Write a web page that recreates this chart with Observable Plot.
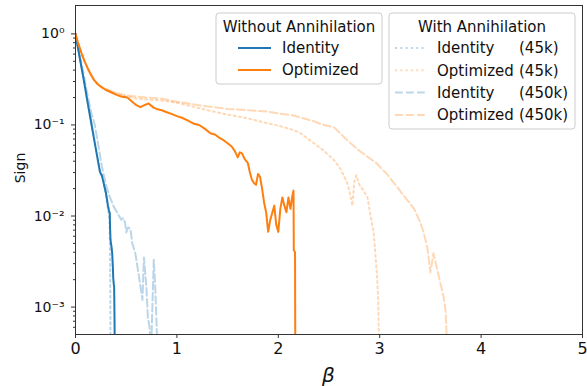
<!DOCTYPE html>
<html><head><meta charset="utf-8">
<script src="https://cdn.jsdelivr.net/npm/d3@7"></script>
<script src="https://cdn.jsdelivr.net/npm/@observablehq/plot@0.6"></script>
<style>
body{margin:0;background:#fff;}
svg{font-family:"DejaVu Sans",sans-serif;}
</style>
</head><body><div id="chart"></div>
<script>
// ---- data ----
const identityBeta = [0, 0.04, 0.08, 0.12, 0.16, 0.2, 0.24, 0.25, 0.26, 0.27, 0.279, 0.29, 0.30, 0.312, 0.32, 0.33, 0.338, 0.341, 0.345, 0.35, 0.355, 0.362, 0.368, 0.372, 0.378, 0.381, 0.384, 0.388];
const identitySign = [1, 0.56, 0.32, 0.175, 0.098, 0.055, 0.031, 0.029, 0.028, 0.025, 0.0228, 0.02, 0.018, 0.0149, 0.013, 0.0115, 0.0107, 0.0075, 0.0055, 0.005, 0.0046, 0.0039, 0.0028, 0.0021, 0.00175, 0.0017, 0.0009, 0.0003];

const optimizedBeta = [0, 0.02, 0.04, 0.06, 0.09, 0.12, 0.15, 0.18, 0.22, 0.26, 0.3, 0.345, 0.4, 0.45, 0.51, 0.56, 0.6, 0.64, 0.68, 0.72, 0.74, 0.77, 0.8, 0.85, 0.9, 0.94, 1.0, 1.05, 1.1, 1.17, 1.22, 1.28, 1.33, 1.38, 1.42, 1.46, 1.5, 1.54, 1.57, 1.6, 1.62, 1.64, 1.67, 1.7, 1.72, 1.74, 1.76, 1.78, 1.8, 1.82, 1.84, 1.86, 1.88, 1.9, 1.92, 1.94, 1.96, 1.98, 2.0, 2.02, 2.04, 2.06, 2.08, 2.1, 2.12, 2.14, 2.15, 2.153, 2.165, 2.168];
const optimizedSign = [1, 0.83, 0.71, 0.61, 0.5, 0.42, 0.36, 0.315, 0.28, 0.258, 0.242, 0.23, 0.215, 0.205, 0.2, 0.18, 0.165, 0.157, 0.165, 0.172, 0.165, 0.155, 0.15, 0.145, 0.138, 0.133, 0.125, 0.12, 0.113, 0.103, 0.1, 0.09, 0.081, 0.078, 0.072, 0.068, 0.063, 0.058, 0.052, 0.044, 0.05, 0.049, 0.042, 0.038, 0.03, 0.025, 0.023, 0.022, 0.029, 0.027, 0.02, 0.014, 0.011, 0.0067, 0.009, 0.0108, 0.013, 0.008, 0.0067, 0.012, 0.016, 0.013, 0.011, 0.016, 0.012, 0.017, 0.019, 0.0042, 0.004, 0.0002];

const identity45kBeta = [0, 0.04, 0.08, 0.12, 0.16, 0.2, 0.24, 0.27, 0.3, 0.32, 0.335, 0.34, 0.343, 0.346];
const identity45kSign = [1, 0.57, 0.32, 0.18, 0.1, 0.056, 0.032, 0.025, 0.017, 0.012, 0.009, 0.0045, 0.0015, 0.0003];

const optimized45kBeta = [0, 0.02, 0.04, 0.06, 0.09, 0.12, 0.15, 0.18, 0.22, 0.26, 0.3, 0.4, 0.5, 0.6, 0.7, 0.84, 1.0, 1.17, 1.3, 1.5, 1.7, 1.89, 2.02, 2.15, 2.22, 2.35, 2.45, 2.55, 2.62, 2.68, 2.71, 2.73, 2.75, 2.77, 2.8, 2.84, 2.88, 2.91, 2.94, 2.96, 2.975, 2.985, 2.995];
const optimized45kSign = [1, 0.83, 0.71, 0.61, 0.5, 0.42, 0.36, 0.315, 0.28, 0.26, 0.245, 0.22, 0.205, 0.195, 0.19, 0.186, 0.175, 0.158, 0.145, 0.13, 0.118, 0.105, 0.097, 0.088, 0.081, 0.063, 0.052, 0.041, 0.032, 0.023, 0.017, 0.013, 0.024, 0.028, 0.022, 0.019, 0.016, 0.01, 0.0066, 0.0035, 0.0021, 0.0012, 0.0003];

const identity450kBeta = [0, 0.04, 0.08, 0.12, 0.16, 0.19, 0.22, 0.26, 0.305, 0.34, 0.378, 0.41, 0.45, 0.47, 0.49, 0.5, 0.52, 0.542, 0.56, 0.59, 0.608, 0.625, 0.64, 0.66, 0.675, 0.69, 0.70, 0.714, 0.73, 0.745, 0.76, 0.772, 0.785, 0.795, 0.81];
const identity450kSign = [1, 0.6, 0.36, 0.21, 0.13, 0.1, 0.065, 0.035, 0.021, 0.016, 0.0126, 0.011, 0.0091, 0.0095, 0.0084, 0.0066, 0.0075, 0.0072, 0.005, 0.0039, 0.0029, 0.0022, 0.0017, 0.0012, 0.0035, 0.0022, 0.0016, 0.00077, 0.0006, 0.0003, 0.0012, 0.0033, 0.0018, 0.0009, 0.0003];

const optimized450kBeta = [0, 0.02, 0.04, 0.06, 0.09, 0.12, 0.15, 0.18, 0.22, 0.26, 0.3, 0.4, 0.5, 0.6, 0.7, 0.84, 1.0, 1.17, 1.3, 1.5, 1.7, 1.89, 2.02, 2.15, 2.35, 2.42, 2.55, 2.68, 2.8, 2.97, 3.07, 3.17, 3.25, 3.34, 3.4, 3.43, 3.47, 3.5, 3.53, 3.56, 3.6, 3.63, 3.65, 3.66, 3.67];
const optimized450kSign = [1, 0.83, 0.71, 0.61, 0.5, 0.42, 0.36, 0.315, 0.28, 0.26, 0.25, 0.225, 0.212, 0.205, 0.2, 0.195, 0.18, 0.168, 0.16, 0.15, 0.145, 0.14, 0.133, 0.127, 0.11, 0.102, 0.094, 0.068, 0.052, 0.038, 0.029, 0.021, 0.016, 0.012, 0.0085, 0.0068, 0.0045, 0.0024, 0.0039, 0.0028, 0.0018, 0.0013, 0.0009, 0.0005, 0.0002];

const xTicks = [0, 1, 2, 3, 4, 5];
const xTickLabels = ["0", "1", "2", "3", "4", "5"];
const yTicks = [1, 0.1, 0.01, 0.001];
const yTickLabels = ["10\u2070", "10\u207B\u00B9", "10\u207B\u00B2", "10\u207B\u00B3"];
const yMinorTicks = [6e-4, 7e-4, 8e-4, 9e-4, 2e-3, 3e-3, 4e-3, 5e-3, 6e-3, 7e-3, 8e-3, 9e-3, 2e-2, 3e-2, 4e-2, 5e-2, 6e-2, 7e-2, 8e-2, 9e-2, 0.2, 0.3, 0.4, 0.5, 0.6, 0.7, 0.8, 0.9];
const xLabel = "\u03B2";
const yLabel = "Sign";
const legend1Title = "Without Annihilation";
const legend1Labels = ["Identity", "Optimized"];
const legend2Title = "With Annihilation";
const legend2Labels = ["Identity", "Optimized", "Identity", "Optimized"];
const legend2Suffix = ["(45k)", "(45k)", "(450k)", "(450k)"];

const blue = "#1f77b4", orange = "#ff7f0e";
const rows = (b, s) => b.map((x, i) => ({beta: x, sign: s[i]}));

const common = {x: "beta", y: "sign", strokeWidth: 2, clip: true, strokeLinejoin: "round"};

const chart = Plot.plot({
  width: 587, height: 386,
  marginLeft: 75, marginRight: 5, marginTop: 5, marginBottom: 52,
  style: {fontFamily: "DejaVu Sans", background: "#fff"},
  x: {domain: [0, 5]},
  y: {type: "log", domain: [5e-4, 2.05]},
  marks: [
    Plot.line(rows(identity45kBeta, identity45kSign), {...common, stroke: blue, strokeOpacity: 0.3, strokeDasharray: "2,3.3"}),
    Plot.line(rows(optimized45kBeta, optimized45kSign), {...common, stroke: orange, strokeOpacity: 0.3, strokeDasharray: "2,3.3"}),
    Plot.line(rows(identity450kBeta, identity450kSign), {...common, stroke: blue, strokeOpacity: 0.3, strokeDasharray: "7.7,3.3"}),
    Plot.line(rows(optimized450kBeta, optimized450kSign), {...common, stroke: orange, strokeOpacity: 0.3, strokeDasharray: "7.7,3.3"}),
    Plot.line(rows(identityBeta, identitySign), {...common, stroke: blue}),
    Plot.line(rows(optimizedBeta, optimizedSign), {...common, stroke: orange}),
    Plot.axisX({ticks: xTicks, tickSize: 4, tickPadding: 4, fontSize: 16, label: null, tickFormat: d => xTickLabels[xTicks.indexOf(d)], stroke: "#333", color: "#111"}),
    Plot.axisY({ticks: yTicks, tickSize: 4, tickPadding: 7, fontSize: 14, label: null, tickFormat: d => yTickLabels[yTicks.indexOf(d)], stroke: "#333", color: "#111"}),
    Plot.axisY({ticks: yMinorTicks, tickSize: 2, tickFormat: () => "", label: null, stroke: "#333"}),
    Plot.frame({stroke: "#333", strokeWidth: 1})
  ]
});
document.getElementById("chart").appendChild(chart);

const svg = d3.select(chart);
// axis titles
svg.append("text").attr("x", 328.5).attr("y", 375).attr("dy", "0.35em").attr("text-anchor", "middle")
  .attr("font-family", "DejaVu Sans").attr("font-style", "italic").attr("font-size", 20).attr("fill", "#111").text(xLabel);
svg.append("text").attr("transform", "translate(20,168) rotate(-90)").attr("dy", "0.35em").attr("text-anchor", "middle")
  .attr("font-family", "DejaVu Sans").attr("font-size", 14).attr("fill", "#111").text(yLabel);

// ---- legends ----
const g = svg.append("g").attr("font-family", "DejaVu Sans").attr("font-size", 15).attr("fill", "#111");
function box(x, y, w, h) {
  g.append("rect").attr("x", x).attr("y", y).attr("width", w).attr("height", h)
    .attr("rx", 3).attr("fill", "#fff").attr("fill-opacity", 0.8).attr("stroke", "#ccc").attr("stroke-width", 1);
}
function entry(x1, x2, y, color, opacity, dash) {
  g.append("line").attr("x1", x1).attr("x2", x2).attr("y1", y).attr("y2", y)
    .attr("stroke", color).attr("stroke-opacity", opacity).attr("stroke-width", 2)
    .attr("stroke-dasharray", dash);
}
function label(x, y, t, anchor) {
  g.append("text").attr("x", x).attr("y", y).attr("dy", "0.35em").attr("text-anchor", anchor || "start").text(t);
}
box(216, 13, 166, 71);
label(299, 27, legend1Title, "middle");
[blue, orange].forEach((c, i) => {
  const y = 48 + i * 22;
  entry(238, 271, y, c, 1, null);
  label(282, y, legend1Labels[i]);
});
box(389, 13, 186, 116);
label(482, 27, legend2Title, "middle");
const l2Colors = [blue, orange, blue, orange];
const l2Dash = ["2,3.3", "2,3.3", "7.7,3.3", "7.7,3.3"];
l2Colors.forEach((c, i) => {
  const y = 48 + i * 22.3;
  entry(395, 426, y, c, 0.3, l2Dash[i]);
  label(437, y, legend2Labels[i]);
  label(519, y, legend2Suffix[i]);
});
</script>
</body></html>
